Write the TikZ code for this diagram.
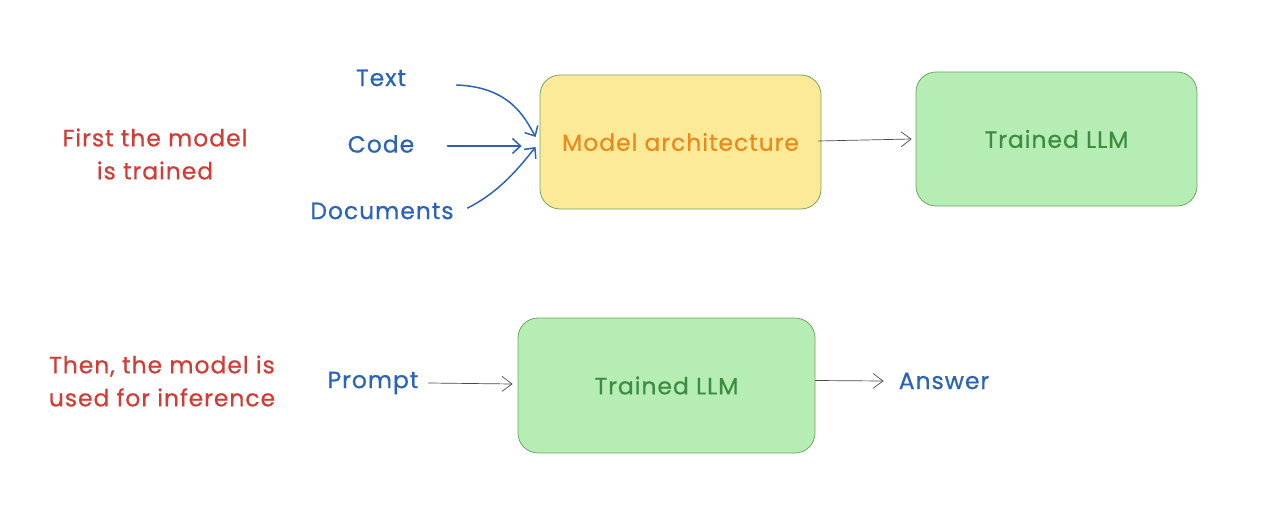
\documentclass[tikz,border=0pt]{standalone}
\usepackage{fontspec}
\setmainfont{Poppins}[LetterSpace=4,FakeBold=0.6]
\usetikzlibrary{arrows.meta}
\definecolor{inkblue}{HTML}{2B63B6}
\definecolor{inkred}{HTML}{D23C36}
\definecolor{inkorange}{HTML}{EB8A1C}
\definecolor{inkgreen}{HTML}{3C8D3F}
\definecolor{yellowfill}{HTML}{FDEA99}
\definecolor{greenfill}{HTML}{B5EDB5}
\definecolor{boxline}{HTML}{6FA75F}
\definecolor{arrowgray}{HTML}{4A4A4A}
\tikzset{
  box/.style={draw=boxline, line width=0.8pt, rounded corners=20pt, inner sep=0pt},
  bluetext/.style={text=inkblue, font=\fontsize{23.5}{28}\selectfont, inner sep=0pt},
  redtext/.style={text=inkred, font=\fontsize{23.5}{33}\selectfont, align=center, inner sep=0pt},
  boxtext/.style={font=\fontsize{23.5}{28}\selectfont},
  bluearrow/.style={draw=inkblue, line width=1.5pt, line cap=round, -{Straight Barb[length=8pt,width=15pt,line width=1.5pt]}},
  grayarrow/.style={draw=arrowgray, line width=0.7pt, line cap=round, -{Straight Barb[length=10pt,width=15pt,line width=0.7pt]}}
}
\begin{document}
\begin{tikzpicture}[x=1pt,y=-1pt]
\useasboundingbox (0,0) rectangle (1268,516);
% boxes
\node[box, fill=yellowfill, minimum width=281pt, minimum height=134pt, text=inkorange, boxtext] (arch) at (680.5,142) {Model architecture};
\node[box, fill=greenfill, minimum width=281pt, minimum height=134pt, text=inkgreen, boxtext] (llmA) at (1056.5,139) {Trained LLM};
\node[box, fill=greenfill, minimum width=297pt, minimum height=135pt, text=inkgreen, boxtext] (llmB) at (666.5,385.5) {Trained LLM};
% blue labels
\node[bluetext] (text) at (381,78) {Text};
\node[bluetext] (code) at (381,144) {Code};
\node[bluetext] (docs) at (382,211) {Documents};
\node[bluetext] (prompt) at (373,383) {Prompt};
\node[bluetext] (answer) at (944,381) {Answer};
% red notes
\node[redtext] (note1) at (155,154) {First the model\\is trained};
\node[redtext] (note2) at (162,381) {Then, the model is\\used for inference};
% arrows (start points placed relative to the box they feed)
\draw[bluearrow] ([xshift=-83pt,yshift=57pt]arch.west) .. controls ([xshift=-30pt,yshift=55pt]arch.west) and ([xshift=-15pt,yshift=25pt]arch.west) .. ([xshift=-4pt,yshift=5pt]arch.west);
\draw[bluearrow] ([xshift=-92pt,yshift=-4pt]arch.west) -- ([xshift=-18pt,yshift=-4pt]arch.west);
\draw[bluearrow] ([xshift=-72pt,yshift=-66pt]arch.west) .. controls ([xshift=-40pt,yshift=-50pt]arch.west) and ([xshift=-20pt,yshift=-25pt]arch.west) .. ([xshift=-4pt,yshift=-5pt]arch.west);
\draw[grayarrow] ([xshift=-3pt,yshift=1pt]arch.east) -- ([xshift=-4pt]llmA.west);
\draw[grayarrow] ([xshift=10pt]prompt.east) -- ([xshift=-5pt,yshift=1.5pt]llmB.west);
\draw[grayarrow] ([yshift=5pt]llmB.east) -- ([xshift=-15pt]answer.west);
\end{tikzpicture}
\end{document}
